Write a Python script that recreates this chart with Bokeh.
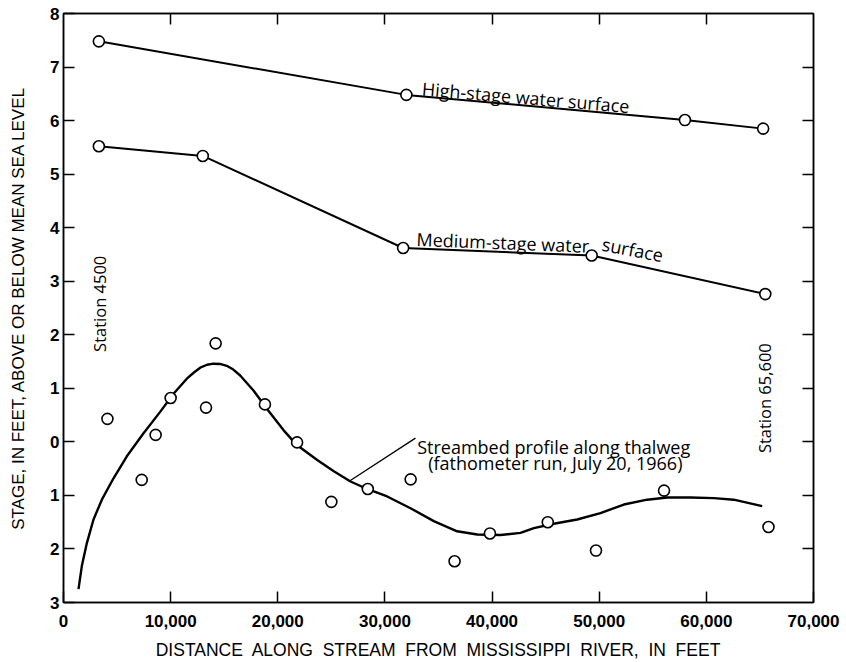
import math
from bokeh.plotting import figure
from bokeh.models import LinearAxis, FixedTicker, Range1d, Label
from bokeh.embed import file_html
from bokeh.resources import INLINE

# ---- data ----
high_x = [3300, 32000, 58000, 65300]
high_y = [7.48, 6.48, 6.01, 5.85]

med_x = [3300, 13000, 31700, 49300, 65500]
med_y = [5.52, 5.34, 3.62, 3.48, 2.76]

bed_x = [4100, 7300, 8600, 10000, 13300, 14200, 18800, 21800, 25000, 28400,
         32400, 36500, 39800, 45200, 49700, 56050, 65800]
bed_y = [0.43, -0.71, 0.13, 0.82, 0.64, 1.84, 0.70, -0.01, -1.12, -0.88,
         -0.70, -2.23, -1.71, -1.50, -2.03, -0.91, -1.59]

curve_x = [1400, 1710, 2180, 2800, 3580, 4670, 5910, 7470, 9020, 10270,
           11510, 12200, 12760, 13400, 14000, 14600, 15240, 15850, 16490, 17730, 18980, 20530, 21780,
           23680, 25230, 26790, 28340, 30210, 32390, 34560, 36740, 38610,
           40790, 42650, 43900, 45760, 47940, 50120, 52300, 54480, 56340,
           58520, 60700, 62560, 65210]
curve_y = [-2.75, -2.32, -1.89, -1.45, -1.08, -0.68, -0.27, 0.16, 0.56, 0.90,
           1.18, 1.30, 1.385, 1.44, 1.46, 1.455, 1.42, 1.35, 1.24, 0.96, 0.62, 0.22, -0.06,
           -0.34, -0.55, -0.74, -0.88, -1.02, -1.24, -1.48, -1.67, -1.73,
           -1.74, -1.70, -1.61, -1.53, -1.45, -1.33, -1.17, -1.08, -1.04,
           -1.04, -1.05, -1.08, -1.20]

leader_x = [26630, 32850]
leader_y = [-0.74, 0.07]

x_ticks = [0, 10000, 20000, 30000, 40000, 50000, 60000, 70000]
x_tick_labels = ["0", "10,000", "20,000", "30,000", "40,000", "50,000", "60,000", "70,000"]
y_ticks = [-3, -2, -1, 0, 1, 2, 3, 4, 5, 6, 7, 8]
y_tick_labels = ["3", "2", "1", "0", "1", "2", "3", "4", "5", "6", "7", "8"]
inner_x_ticks = [10000, 20000, 30000, 40000, 50000, 60000]
inner_y_ticks = [-2, -1, 0, 1, 2, 3, 4, 5, 6, 7]

x_title_words = ["DISTANCE", "ALONG", "STREAM", "FROM", "MISSISSIPPI", "RIVER,", "IN", "FEET"]
y_title_words = ["STAGE,", "IN", "FEET,", "ABOVE", "OR", "BELOW", "MEAN", "SEA", "LEVEL"]

AX_FONT = "Liberation Sans"
ANN_FONT = "Open Sans"
WIDE = "\u00a0 "

p = figure(width=846, height=662, output_backend="svg", toolbar_location=None,
           x_range=Range1d(0, 70000), y_range=Range1d(-3, 8),
           min_border_left=63, min_border_right=33, min_border_top=13,
           min_border_bottom=57)
p.xgrid.visible = False
p.ygrid.visible = False
p.outline_line_color = "black"
p.outline_line_width = 1.5
p.background_fill_color = "white"
p.border_fill_color = "white"

xa = p.xaxis[0]
xa.ticker = FixedTicker(ticks=x_ticks)
xa.major_label_overrides = {v: s for v, s in zip(x_ticks, x_tick_labels)}
xa.axis_label = WIDE.join(x_title_words)
ya = p.yaxis[0]
ya.ticker = FixedTicker(ticks=y_ticks)
ya.major_label_overrides = {v: s for v, s in zip(y_ticks, y_tick_labels)}
ya.axis_label = " ".join(y_title_words)

for ax in (xa, ya):
    ax.axis_line_color = "black"
    ax.axis_line_width = 1.5
    ax.major_tick_in = 11
    ax.major_tick_out = 0
    ax.major_tick_line_width = 1.5
    ax.major_tick_line_color = "black"
    ax.minor_tick_line_color = None
    ax.major_label_text_font = AX_FONT
    ax.major_label_text_font_size = "17px"
    ax.major_label_text_font_style = "bold"
    ax.major_label_text_color = "black"
    ax.axis_label_text_font = AX_FONT
    ax.axis_label_text_font_style = "normal"
    ax.axis_label_text_color = "black"
xa.axis_label_text_font_size = "17.5px"
ya.axis_label_text_font_size = "17px"
xa.major_label_standoff = 12
xa.axis_label_standoff = 10
ya.major_label_standoff = 4
ya.axis_label_standoff = 19
ya.major_label_orientation = "horizontal"

def tick_axis(ticks, loc):
    ax = LinearAxis(ticker=FixedTicker(ticks=ticks))
    ax.major_label_overrides = {v: "" for v in ticks}
    ax.major_label_standoff = 0
    ax.major_tick_in = 11
    ax.major_tick_out = 0
    ax.major_tick_line_width = 1.5
    ax.major_tick_line_color = "black"
    ax.minor_tick_line_color = None
    ax.axis_line_color = "black"
    ax.axis_line_width = 1.5
    p.add_layout(ax, loc)
    return ax

tick_axis(inner_x_ticks, "above")
tick_axis(inner_y_ticks, "right")

p.line(high_x, high_y, line_color="black", line_width=2)
p.line(med_x, med_y, line_color="black", line_width=2)
p.line(curve_x, curve_y, line_color="black", line_width=2.4, line_join="round")
p.line(leader_x, leader_y, line_color="black", line_width=1.3)

for xs, ys in ((high_x, high_y), (med_x, med_y), (bed_x, bed_y)):
    p.scatter(xs, ys, size=11, marker="circle", fill_color="white",
              line_color="black", line_width=1.6)

def lab(text, x, y, angle=0.0, align="left", baseline="alphabetic", size="18px"):
    p.add_layout(Label(x=x, y=y, text=text, angle=angle, text_align=align,
                       text_baseline=baseline, text_font=ANN_FONT,
                       text_font_size=size, text_color="black",
                       text_font_style="normal"))

lab("High-stage water surface", 33480, 6.60, angle=-0.085)
lab("Medium-stage water", 32950, 3.79, angle=-0.04)
lab("surface", 50300, 3.70, angle=-0.19)
lab("Streambed profile along thalweg", 33010, -0.09)
lab("(fathometer run, July 20, 1966)", 34040, -0.40)
lab("Station 4500", 3330, 1.68, angle=math.pi / 2, baseline="middle", size="16.5px")
lab("Station 65,600", 65430, -0.21, angle=math.pi / 2, baseline="middle", size="16.5px")

open("out.html", "w").write(file_html(p, INLINE))
